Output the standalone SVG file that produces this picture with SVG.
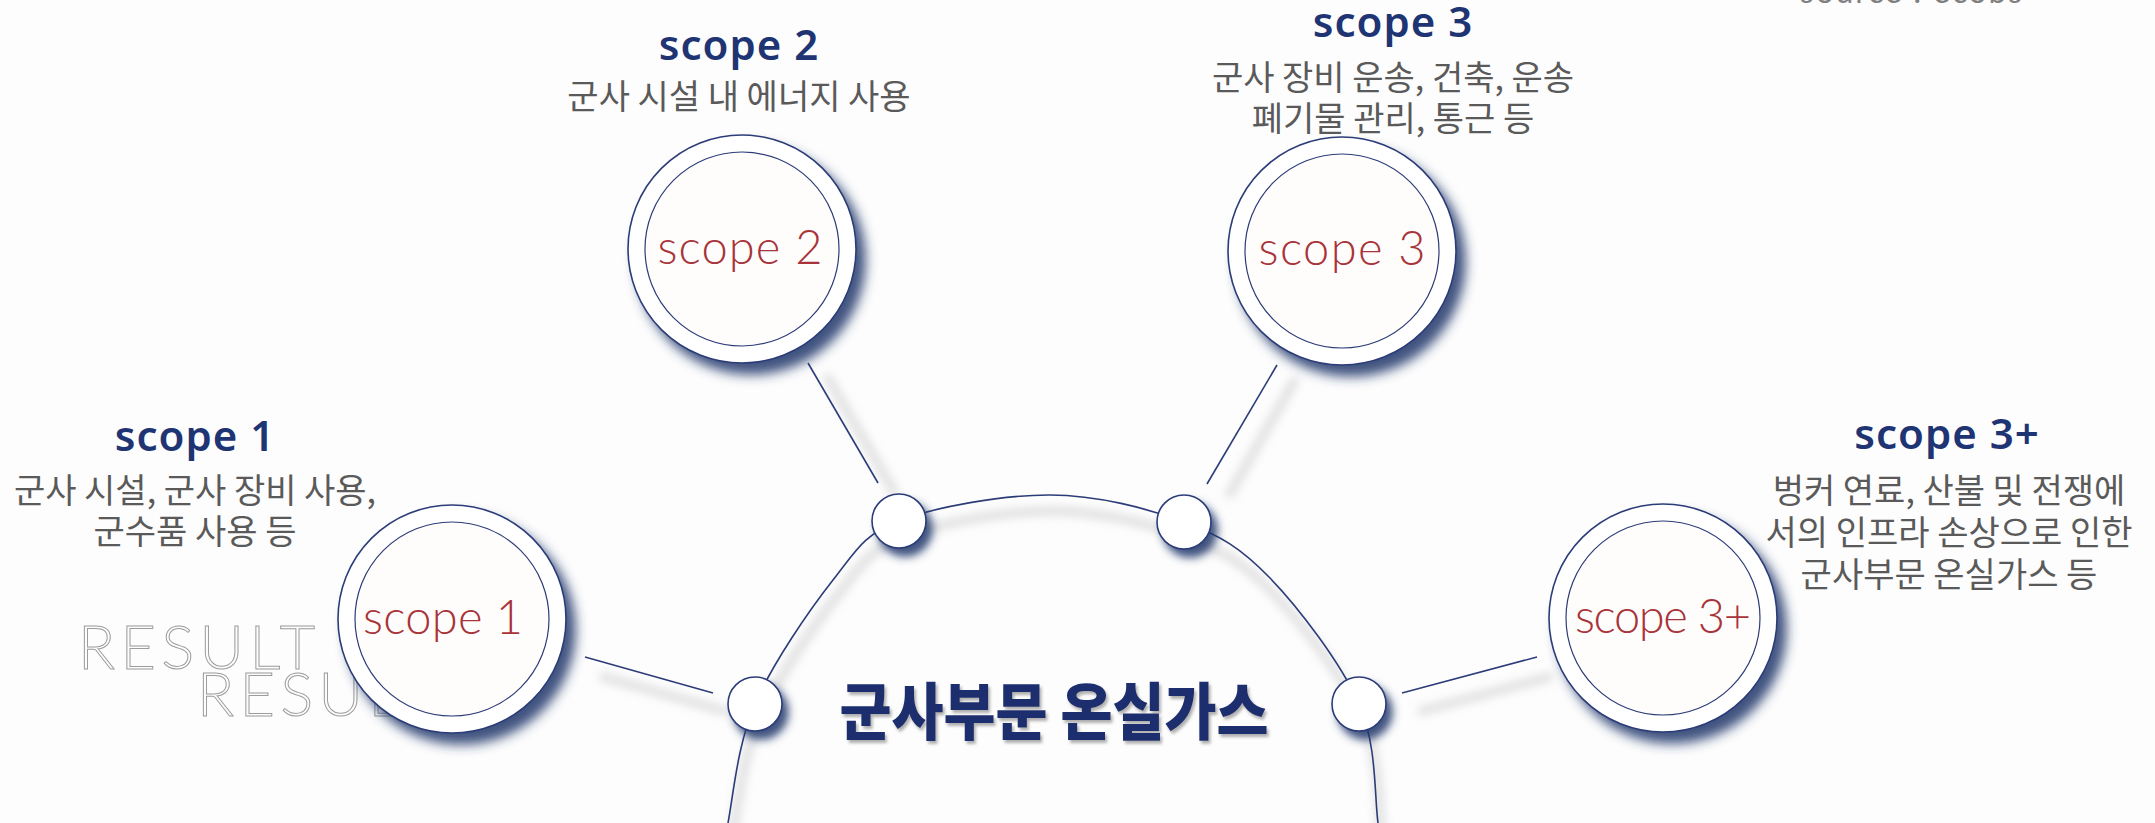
<svg xmlns="http://www.w3.org/2000/svg" width="2155" height="823" viewBox="0 0 2155 823">
  <defs>
    <filter id="shBig" x="-30%" y="-30%" width="170%" height="170%">
      <feDropShadow dx="9" dy="11" stdDeviation="6" flood-color="#23356a" flood-opacity="0.85"/>
    </filter>
    <filter id="shSmall" x="-60%" y="-60%" width="230%" height="230%">
      <feDropShadow dx="6" dy="8" stdDeviation="4" flood-color="#23356a" flood-opacity="0.85"/>
    </filter>
    <filter id="blur" x="-20%" y="-20%" width="140%" height="140%">
      <feGaussianBlur stdDeviation="5"/>
    </filter>
    <filter id="shTitle" x="-10%" y="-20%" width="120%" height="150%">
      <feDropShadow dx="2" dy="3" stdDeviation="1.5" flood-color="#7a7a7a" flood-opacity="0.6"/>
    </filter>
  </defs>
  <style>
    .title { font-family: "Noto Sans", "Noto Sans CJK KR", sans-serif; font-weight: 600; font-size: 42px; fill: #1f3473; text-anchor: middle; letter-spacing: 1px; }
    .desc { font-family: "Noto Sans CJK KR", "Noto Sans", sans-serif; font-weight: 400; font-size: 34px; fill: #5a5a5a; text-anchor: middle; }
    .inner { font-family: Lato, "Noto Sans", sans-serif; font-weight: 300; font-size: 47px; fill: #a8343a; text-anchor: middle; }
    .outer { fill: #ffffff; stroke: #2c3c78; stroke-width: 1.6; }
    .innerc { fill: #fffdfc; stroke: #2c3c78; stroke-width: 1.2; }
    .node { fill: #ffffff; stroke: #2c3c78; stroke-width: 1.6; }
    .conn { stroke: #2c3c78; stroke-width: 1.6; fill: none; }
    .connsh { stroke: #d6d6d6; stroke-width: 9; fill: none; }
    .result { font-family: Lato, "Noto Sans", sans-serif; font-weight: 300; font-size: 61px; fill: none; stroke: #9c9c9c; stroke-width: 1; letter-spacing: 5.5px; }
  </style>
  <rect width="2155" height="823" fill="#fdfdfd"/>

  <text x="1800" y="3" font-family="Lato, 'Noto Sans', sans-serif" font-size="32" fill="#808080" textLength="222">source : ecobs</text>

  <g id="watermark">
    <text class="result" x="78" y="669">RESULT</text>
    <text class="result" x="197" y="716">RESUL</text>
  </g>

  <g id="connectors">
    <g filter="url(#blur)" opacity="0.75">
      <path class="connsh" d="M728,823 C733.5,793.7 737.5,744.5 755,704 C772.5,663.5 809,610.5 833,580 C857,549.5 862.8,535.2 899,521 C935.2,506.8 1002.5,494.8 1050,495 C1097.5,495.2 1147.3,508.2 1184,522 C1220.7,535.8 1240.8,547.7 1270,578 C1299.2,608.3 1341,663.2 1359,704 C1377,744.8 1374.2,793.7 1378,823" transform="translate(4,16)"/>
      <line class="connsh" x1="600" y1="676" x2="728" y2="712"/>
      <line class="connsh" x1="826" y1="375" x2="896" y2="495"/>
      <line class="connsh" x1="1296" y1="378" x2="1228" y2="497"/>
      <line class="connsh" x1="1418" y1="712" x2="1553" y2="676"/>
    </g>
    <path class="conn" d="M728,823 C733.5,793.7 737.5,744.5 755,704 C772.5,663.5 809,610.5 833,580 C857,549.5 862.8,535.2 899,521 C935.2,506.8 1002.5,494.8 1050,495 C1097.5,495.2 1147.3,508.2 1184,522 C1220.7,535.8 1240.8,547.7 1270,578 C1299.2,608.3 1341,663.2 1359,704 C1377,744.8 1374.2,793.7 1378,823"/>
    <line class="conn" x1="585" y1="657" x2="713" y2="693"/>
    <line class="conn" x1="808" y1="363" x2="878" y2="483"/>
    <line class="conn" x1="1277" y1="365" x2="1207" y2="484"/>
    <line class="conn" x1="1402" y1="693" x2="1537" y2="657"/>
  </g>

  <g id="center">
    <text x="1054" y="735" font-family="'Noto Sans CJK KR', sans-serif" font-weight="900" font-size="62" fill="#1b2f6e" text-anchor="middle" textLength="429" lengthAdjust="spacingAndGlyphs" filter="url(#shTitle)">군사부문 온실가스</text>
  </g>

  <g id="hub-nodes">
    <circle class="node" cx="755" cy="704" r="27" filter="url(#shSmall)"/>
    <circle class="node" cx="899" cy="521" r="27" filter="url(#shSmall)"/>
    <circle class="node" cx="1184" cy="522" r="27" filter="url(#shSmall)"/>
    <circle class="node" cx="1359" cy="704" r="27" filter="url(#shSmall)"/>
  </g>

  <g id="scope1">
    <text class="title" x="195" y="451">scope 1</text>
    <text class="desc" x="195" y="503">군사 시설, 군사 장비 사용,</text>
    <text class="desc" x="195" y="544">군수품 사용 등</text>
    <circle class="outer" cx="452" cy="619" r="114" filter="url(#shBig)"/>
    <circle class="innerc" cx="452" cy="619" r="97"/>
    <text class="inner" x="443" y="634" textLength="160">scope 1</text>
  </g>

  <g id="scope2">
    <text class="title" x="739" y="60">scope 2</text>
    <text class="desc" x="739" y="109">군사 시설 내 에너지 사용</text>
    <circle class="outer" cx="742" cy="249" r="114" filter="url(#shBig)"/>
    <circle class="innerc" cx="742" cy="249" r="97"/>
    <text class="inner" x="740" y="264" textLength="165">scope 2</text>
  </g>

  <g id="scope3">
    <text class="title" x="1393" y="37">scope 3</text>
    <text class="desc" x="1393" y="90">군사 장비 운송, 건축, 운송</text>
    <text class="desc" x="1393" y="131">폐기물 관리, 통근 등</text>
    <circle class="outer" cx="1342" cy="251" r="114" filter="url(#shBig)"/>
    <circle class="innerc" cx="1342" cy="251" r="97"/>
    <text class="inner" x="1342" y="265" textLength="167">scope 3</text>
  </g>

  <g id="scope3plus">
    <text class="title" x="1947" y="449">scope 3+</text>
    <text class="desc" x="1949" y="503">벙커 연료, 산불 및 전쟁에</text>
    <text class="desc" x="1949" y="545">서의 인프라 손상으로 인한</text>
    <text class="desc" x="1949" y="587">군사부문 온실가스 등</text>
    <circle class="outer" cx="1663" cy="618" r="114" filter="url(#shBig)"/>
    <circle class="innerc" cx="1663" cy="618" r="97"/>
    <text class="inner" x="1663" y="633" textLength="176">scope 3+</text>
  </g>
</svg>
